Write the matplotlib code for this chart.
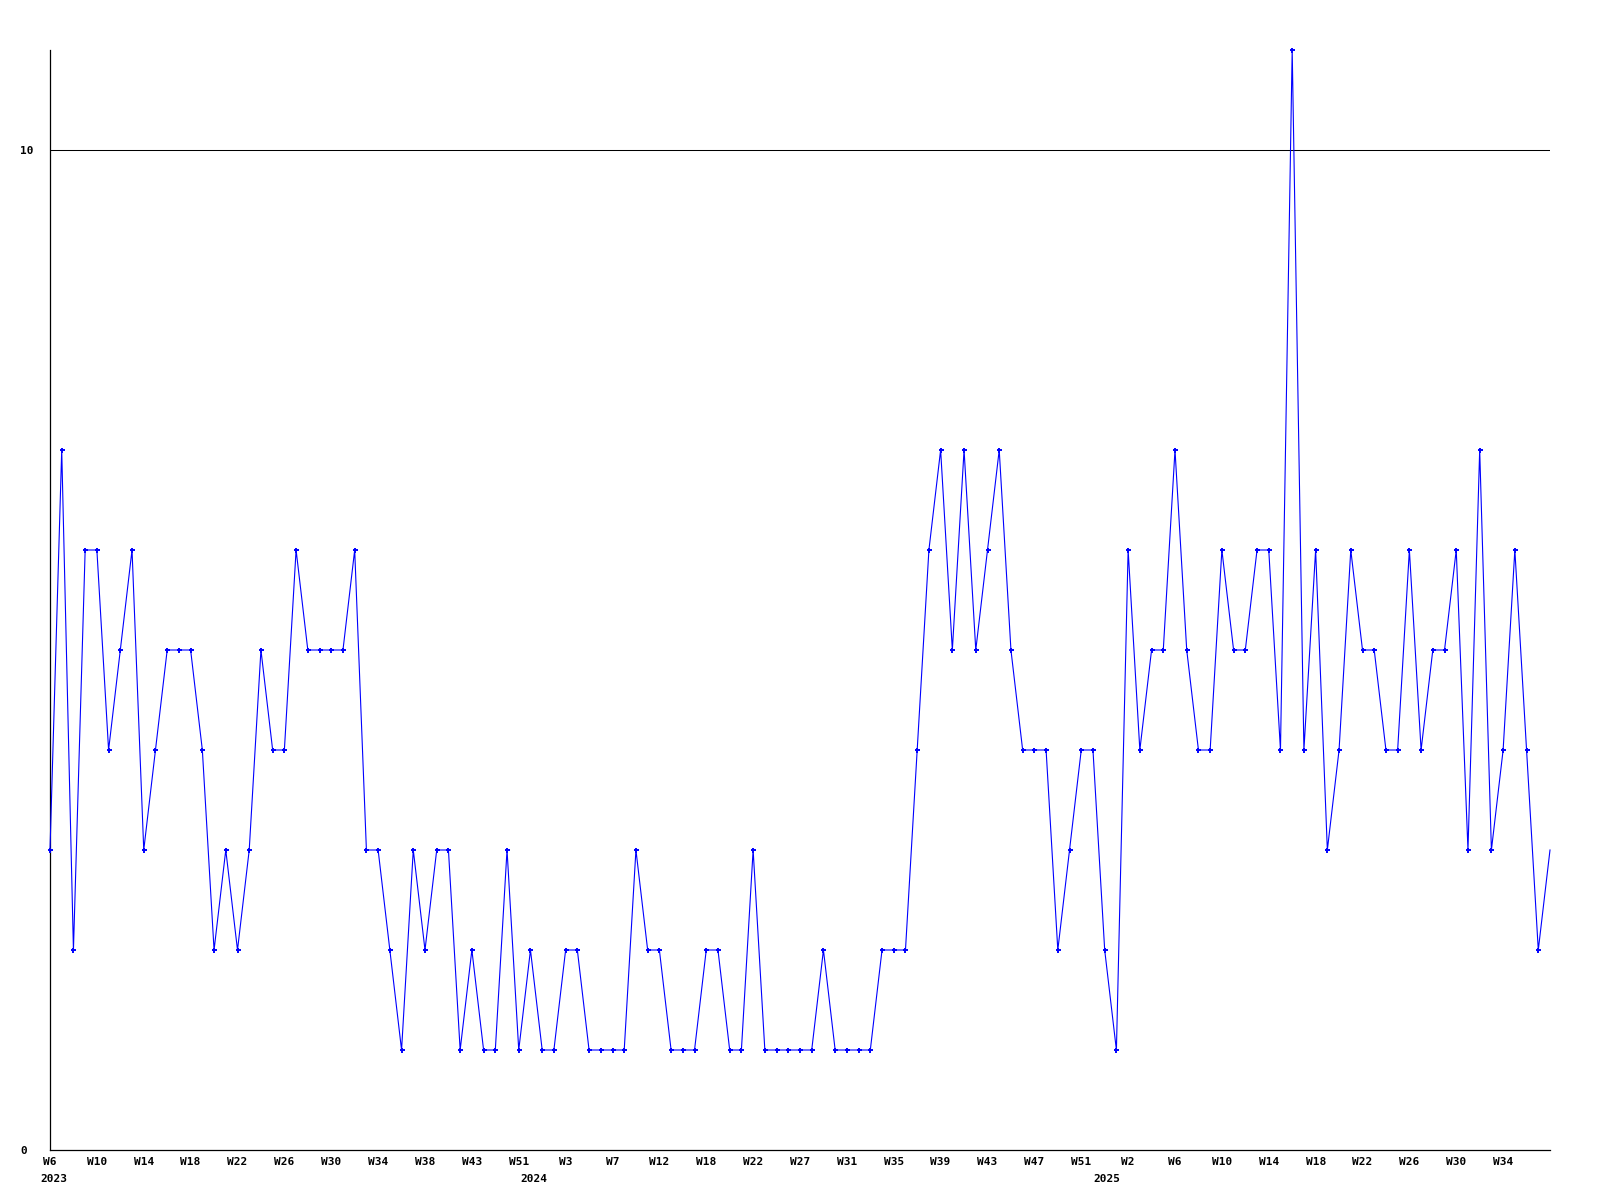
import matplotlib
matplotlib.use("Agg")
import matplotlib.pyplot as plt
from matplotlib.transforms import blended_transform_factory, offset_copy

values = [3, 7, 2, 6, 6, 4, 5, 6, 3, 4,
          5, 5, 5, 4, 2, 3, 2, 3, 5, 4,
          4, 6, 5, 5, 5, 5, 6, 3, 3, 2,
          1, 3, 2, 3, 3, 1, 2, 1, 1, 3,
          1, 2, 1, 1, 2, 2, 1, 1, 1, 1,
          3, 2, 2, 1, 1, 1, 2, 2, 1, 1,
          3, 1, 1, 1, 1, 1, 2, 1, 1, 1,
          1, 2, 2, 2, 4, 6, 7, 5, 7, 5,
          6, 7, 5, 4, 4, 4, 2, 3, 4, 4,
          2, 1, 6, 4, 5, 5, 7, 5, 4, 4,
          6, 5, 5, 6, 6, 4, 11, 4, 6, 3,
          4, 6, 5, 5, 4, 4, 6, 4, 5, 5,
          6, 3, 7, 3, 4, 6, 4, 2, 3]

week_labels = ["W6", "W10", "W14", "W18", "W22", "W26", "W30", "W34", "W38", "W43",
               "W51", "W3", "W7", "W12", "W18", "W22", "W27", "W31", "W35", "W39",
               "W43", "W47", "W51", "W2", "W6", "W10", "W14", "W18", "W22", "W26",
               "W30", "W34"]
tick_step = 4

year_labels = ["2023", "2024", "2025"]
year_label_index = [0.3, 41.3, 90.2]

y_ticks = [0, 10]

font = dict(family="DejaVu Sans Mono", weight="bold", size=8)

fig = plt.figure(figsize=(16, 12), dpi=100)
ax = fig.add_axes([50 / 1600, 50 / 1200, 1500 / 1600, 1100 / 1200])

x = list(range(len(values)))
ax.plot(x, values, color="#0000ff", lw=0.8, marker="+", markersize=3.6,
        markeredgewidth=1.4, markevery=list(range(len(values) - 1)),
        clip_on=False, zorder=3)

ax.axhline(10, color="black", lw=0.75, zorder=2)

ax.set_xlim(0, len(values) - 1)
ax.set_ylim(0, 11)

for s in ["top", "right"]:
    ax.spines[s].set_visible(False)
for s in ["left", "bottom"]:
    ax.spines[s].set_color("black")
    ax.spines[s].set_linewidth(0.9)

ax.set_yticks(y_ticks)
ax.set_yticklabels([str(v) for v in y_ticks], **font)
ax.tick_params(axis="y", length=0, pad=21.6)
for lab in ax.get_yticklabels():
    lab.set_horizontalalignment("left")

ax.set_xticks(list(range(0, tick_step * len(week_labels), tick_step)))
ax.set_xticklabels(week_labels, **font)
ax.tick_params(axis="x", length=0, pad=5)

trans = blended_transform_factory(ax.transData, ax.transAxes)
trans = offset_copy(trans, fig=fig, x=0, y=-29, units="dots")
for lab, xi in zip(year_labels, year_label_index):
    ax.text(xi, 0, lab, transform=trans, ha="center", va="center", **font)

fig.savefig("out.png", dpi=100, facecolor="white")
